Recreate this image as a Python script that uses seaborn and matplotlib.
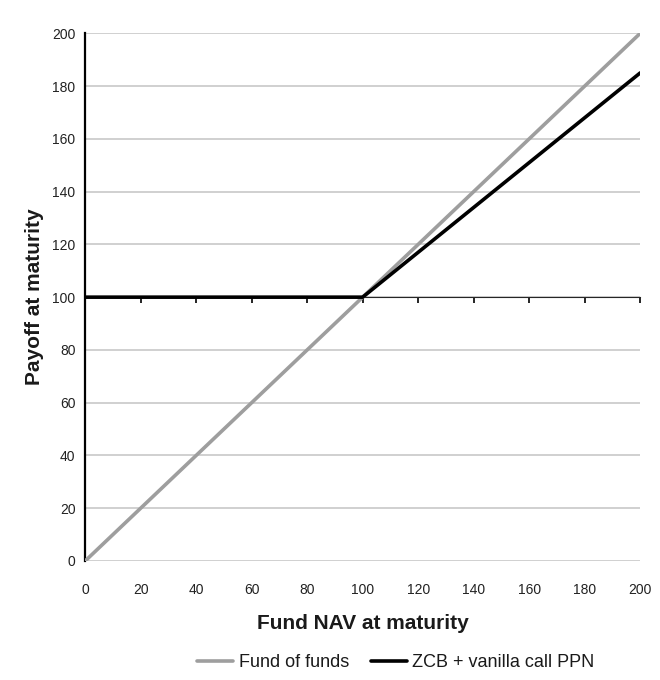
import matplotlib
matplotlib.use("Agg")
import matplotlib.pyplot as plt
import seaborn as sns
import pandas as pd

nav = [0, 100, 200]
fund_of_funds = [0, 100, 200]
zcb_call_ppn = [100, 100, 185]
series_names = ["Fund of funds", "ZCB + vanilla call PPN"]
ticks = list(range(0, 201, 20))

sns.set_style("white")
plt.rcParams['font.family'] = ['Liberation Sans', 'DejaVu Sans']

df = pd.DataFrame({
    "nav": nav * 2,
    "payoff": fund_of_funds + zcb_call_ppn,
    "series": [series_names[0]] * len(nav) + [series_names[1]] * len(nav),
})

fig = plt.figure(figsize=(6.6, 6.8), dpi=100)
ax = fig.add_axes([0.129, 0.175, 0.841, 0.776])

for y in ticks:
    ax.axhline(y, color="#c8c8c8", lw=1.2, zorder=0)

sns.lineplot(data=df, x="nav", y="payoff", hue="series",
             palette={series_names[0]: "#9e9e9e", series_names[1]: "#000000"},
             linewidth=2.6, ax=ax, legend=True, zorder=3)

ax.set_xlim(0, 200)
ax.set_ylim(0, 200)
ax.set_xticks(ticks)
ax.set_yticks(ticks)
ax.set_xticklabels([str(t) for t in ticks], fontsize=10)
ax.set_yticklabels([str(t) for t in ticks], fontsize=10)
ax.tick_params(axis="x", length=0, pad=16, colors="#222222")
ax.tick_params(axis="y", length=4, width=1.2, direction="out", color="black",
               labelcolor="#222222", pad=3)

for s in ["top", "right", "bottom"]:
    ax.spines[s].set_visible(False)
ax.spines["left"].set_color("black")
ax.spines["left"].set_linewidth(1.6)

sec = ax.secondary_xaxis(0.5)
sec.set_xticks(ticks)
sec.set_xticklabels([])
sec.tick_params(axis="x", length=4, width=1.2, direction="in", color="black")
sec.spines["bottom"].set_color("black")
sec.spines["bottom"].set_linewidth(1.6)

ax.set_xlabel("Fund NAV at maturity", fontsize=15, fontweight="bold", labelpad=12,
              color="#1a1a1a")
ax.set_ylabel("Payoff at maturity", fontsize=15, fontweight="bold", labelpad=6,
              color="#1a1a1a")

handles, labels = ax.get_legend_handles_labels()
leg = ax.legend(handles, labels, loc="center", bbox_to_anchor=(0.56, -0.193),
                ncol=2, frameon=False, fontsize=13, handlelength=2.0,
                handletextpad=0.3, columnspacing=1.2)
for t in leg.get_texts():
    t.set_color("#1a1a1a")

fig.savefig("out.png", dpi=100, facecolor="white")
